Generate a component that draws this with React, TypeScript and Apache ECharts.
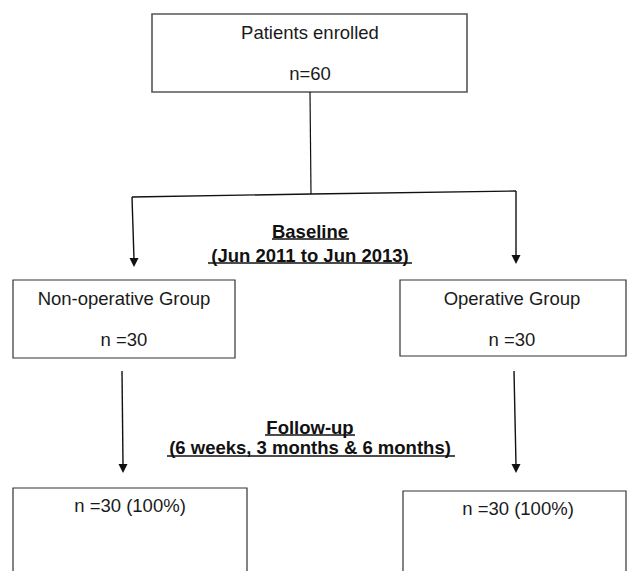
import React, { useEffect, useRef } from "react";
import * as echarts from "echarts";

// ---- Data (flow-chart content) ----
const nodeTitles = ["Patients enrolled", "Non-operative Group", "Operative Group", "", ""];
const nodeCounts = ["n=60", "n =30", "n =30", "n =30 (100%)", "n =30 (100%)"];
const phaseTitles = ["Baseline", "Follow-up"];
const phaseSubtitles = ["(Jun 2011 to Jun 2013)", "(6 weeks, 3 months & 6 months)"];

// ---- Layout (positions / sizes) ----
const boxes = [
  { x: 152, y: 14, w: 315, h: 78, titleY: 32, countY: 73, cx: 310, stroke: "#555", lw: 1.6 },
  { x: 13, y: 280, w: 222, h: 78, titleY: 298, countY: 339, cx: 124, stroke: "#333", lw: 1.2 },
  { x: 400, y: 280, w: 226, h: 76, titleY: 298, countY: 339, cx: 512, stroke: "#333", lw: 1.2 },
  { x: 13, y: 488, w: 234, h: 110, titleY: 0, countY: 505, cx: 130, stroke: "#333", lw: 1.2 },
  { x: 403, y: 491, w: 223, h: 110, titleY: 0, countY: 508, cx: 518, stroke: "#333", lw: 1.2 },
];

const phaseLayout = [
  { cx: 310, y1: 231, y2: 255, u1: [272, 349, 239], u2: [208, 412, 263] },
  { cx: 310, y1: 427, y2: 447, u1: [265, 355, 435], u2: [167, 455, 456] },
];

const arrows = [
  { x1: 132, y1: 197, x2: 134, y2: 267 },
  { x1: 516, y1: 191, x2: 516, y2: 264 },
  { x1: 122, y1: 371, x2: 123, y2: 473 },
  { x1: 514, y1: 371, x2: 516, y2: 473 },
];

const FONT = '"Liberation Sans", Arial, sans-serif';

export default function App() {
  const ref = useRef<HTMLDivElement>(null);
  useEffect(() => {
    document.body.style.margin = "0";
    if (!ref.current) return;
    const chart = echarts.init(ref.current, null, { renderer: "svg" });
    const elements: any[] = [];

    boxes.forEach((b, i) => {
      elements.push({
        type: "rect",
        shape: { x: b.x, y: b.y, width: b.w, height: b.h },
        style: { fill: "#fff", stroke: b.stroke, lineWidth: b.lw },
      });
      if (nodeTitles[i]) {
        elements.push({
          type: "text",
          x: b.cx,
          y: b.titleY,
          style: {
            text: nodeTitles[i],
            fontSize: 18.5,
            fontFamily: FONT,
            fill: "#1a1a1a",
            textAlign: "center",
            textVerticalAlign: "middle",
          },
        });
      }
      elements.push({
        type: "text",
        x: b.cx,
        y: b.countY,
        style: {
          text: nodeCounts[i],
          fontSize: 18.5,
          fontFamily: FONT,
          fill: "#1a1a1a",
          textAlign: "center",
          textVerticalAlign: "middle",
        },
      });
    });

    // trunk connector
    elements.push({
      type: "line",
      shape: { x1: 310, y1: 92, x2: 311, y2: 194 },
      style: { stroke: "#111", lineWidth: 1.2 },
    });
    elements.push({
      type: "polyline",
      shape: { points: [[132, 197], [311, 194], [516, 191]] },
      style: { stroke: "#111", lineWidth: 1.4, fill: "none" },
    });

    arrows.forEach((a) => {
      elements.push({
        type: "line",
        shape: { x1: a.x1, y1: a.y1, x2: a.x2, y2: a.y2 - 8 },
        style: { stroke: "#111", lineWidth: 1.4 },
      });
      elements.push({
        type: "polygon",
        shape: { points: [[a.x2 - 4.5, a.y2 - 9], [a.x2 + 4.5, a.y2 - 9], [a.x2, a.y2]] },
        style: { fill: "#111" },
      });
    });

    phaseLayout.forEach((p, i) => {
      elements.push({
        type: "text",
        x: p.cx,
        y: p.y1,
        style: {
          text: phaseTitles[i],
          fontSize: 18.5,
          fontWeight: "bold",
          fontFamily: FONT,
          fill: "#111",
          textAlign: "center",
          textVerticalAlign: "middle",
        },
      });
      elements.push({
        type: "text",
        x: p.cx,
        y: p.y2,
        style: {
          text: phaseSubtitles[i],
          fontSize: 18.5,
          fontWeight: "bold",
          fontFamily: FONT,
          fill: "#111",
          textAlign: "center",
          textVerticalAlign: "middle",
        },
      });
      [p.u1, p.u2].forEach((u) => {
        elements.push({
          type: "line",
          shape: { x1: u[0], y1: u[2], x2: u[1], y2: u[2] },
          style: { stroke: "#111", lineWidth: 1.6 },
        });
      });
    });

    chart.setOption({
      animation: false,
      backgroundColor: "#fff",
      graphic: { elements },
    });
    return () => chart.dispose();
  }, []);
  return <div ref={ref} style={{ width: 628, height: 571 }} />;
}
